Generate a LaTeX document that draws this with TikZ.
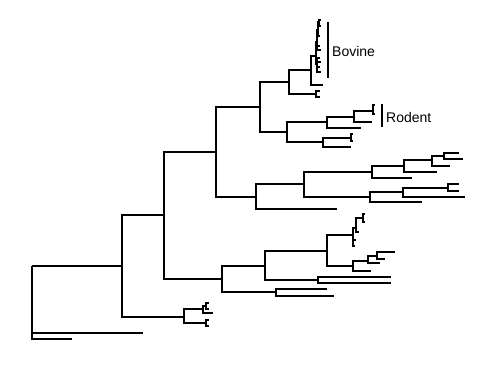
\documentclass[tikz,border=0pt]{standalone}
\usepackage{fontspec}
\setmainfont{Liberation Sans}

\begin{document}
\begin{tikzpicture}[x=1pt,y=-1pt,branch/.style={line width=1.3pt},clade/.style={right,inner sep=0pt,font=\fontsize{14}{16}\selectfont}]
      \useasboundingbox (0,0) rectangle (494,366);
      % internal nodes (x = depth, y = where the parent branch comes in)
      \coordinate (root) at (32,266);
      \coordinate (a) at (122,266);
      \coordinate (b) at (164,215);
      \coordinate (c) at (184,317);
      \coordinate (d) at (216,152);
      \coordinate (e) at (222,279);
      \coordinate (f) at (260,107);
      \coordinate (g) at (256,197);
      \coordinate (h) at (289,82);
      \coordinate (i) at (287,132);
      \coordinate (j) at (311,70);
      \coordinate (k) at (316,94);
      \coordinate (bov) at (316,56);
      \coordinate (bo1) at (317,42);
      \coordinate (bo2) at (317,64);
      \coordinate (bo3) at (318,30);
      \coordinate (bo4) at (319,22);
      \coordinate (m) at (327,122);
      \coordinate (n) at (323,142);
      \coordinate (o) at (354,117);
      \coordinate (p) at (373,111);
      \coordinate (q) at (351,138);
      \coordinate (r) at (304,184);
      \coordinate (s) at (372,172);
      \coordinate (t) at (370,197);
      \coordinate (u) at (404,166);
      \coordinate (v) at (432,160);
      \coordinate (w) at (444,156);
      \coordinate (xa) at (403,192);
      \coordinate (ya) at (448,188);
      \coordinate (z) at (265,266);
      \coordinate (aa) at (276,292);
      \coordinate (bb) at (327,251);
      \coordinate (cc) at (318,280);
      \coordinate (dd) at (353,235);
      \coordinate (dda) at (356,228);
      \coordinate (ddb) at (363,218);
      \coordinate (ee) at (353,266);
      \coordinate (ff) at (368,261);
      \coordinate (gg) at (377,256);
      \coordinate (hh) at (203,309);
      \coordinate (ii) at (206,323);
      \coordinate (jj) at (206,306);
      % leaves
      \coordinate (l1) at (143,333);
      \coordinate (l2) at (72,339);
      \coordinate (l3) at (323,85);
      \coordinate (l4) at (320,91);
      \coordinate (l5) at (320,97);
      \coordinate (l6) at (320,46);
      \coordinate (l7) at (321,50);
      \coordinate (l8) at (320,36);
      \coordinate (l9) at (321,20);
      \coordinate (l10) at (321,26);
      \coordinate (l11) at (320,58);
      \coordinate (l12) at (321,62);
      \coordinate (l13) at (320,67);
      \coordinate (l14) at (321,72);
      \coordinate (l15) at (361,128);
      \coordinate (l16) at (372,122);
      \coordinate (l17) at (375,105);
      \coordinate (l18) at (375,114);
      \coordinate (l19) at (351,147);
      \coordinate (l20) at (353,134);
      \coordinate (l21) at (353,141);
      \coordinate (l22) at (337,209);
      \coordinate (l23) at (412,178);
      \coordinate (l24) at (437,172);
      \coordinate (l25) at (450,166);
      \coordinate (l26) at (459,153);
      \coordinate (l27) at (463,159);
      \coordinate (l28) at (422,202);
      \coordinate (l29) at (465,197);
      \coordinate (l30) at (459,184);
      \coordinate (l31) at (459,191);
      \coordinate (l32) at (356,240);
      \coordinate (l33) at (355,246);
      \coordinate (l34) at (359,232);
      \coordinate (l35) at (365,214);
      \coordinate (l36) at (365,222);
      \coordinate (l37) at (371,271);
      \coordinate (l38) at (380,263);
      \coordinate (l39) at (395,252);
      \coordinate (l40) at (385,259);
      \coordinate (l41) at (391,277);
      \coordinate (l42) at (391,283);
      \coordinate (l43) at (327,289);
      \coordinate (l44) at (334,296);
      \coordinate (l45) at (213,313);
      \coordinate (l46) at (209,303);
      \coordinate (l47) at (209,309);
      \coordinate (l48) at (209,320);
      \coordinate (l49) at (209,326);
      % branches
      \foreach \p/\c in {root/a,root/l1,root/l2,a/b,a/c,b/d,b/e,d/f,d/g,f/h,f/i,h/j,h/k,
          j/bov,j/l3,k/l4,k/l5,bov/bo1,bov/bo2,bo1/bo3,bo1/l6,bo1/l7,bo3/bo4,bo3/l8,
          bo4/l9,bo4/l10,bo2/l11,bo2/l12,bo2/l13,bo2/l14,i/m,i/n,m/o,m/l15,o/p,o/l16,
          p/l17,p/l18,n/q,n/l19,q/l20,q/l21,g/r,g/l22,r/s,r/t,s/u,s/l23,u/v,u/l24,
          v/w,v/l25,w/l26,w/l27,t/xa,t/l28,xa/ya,xa/l29,ya/l30,ya/l31,e/z,e/aa,
          z/bb,z/cc,bb/dd,bb/ee,dd/dda,dd/l32,dd/l33,dda/ddb,dda/l34,ddb/l35,ddb/l36,
          ee/ff,ee/l37,ff/gg,ff/l38,gg/l39,gg/l40,cc/l41,cc/l42,aa/l43,aa/l44,
          c/hh,c/ii,hh/jj,hh/l45,jj/l46,jj/l47,ii/l48,ii/l49}
        \draw[branch] (\p) |- (\c);
      % clade bars
      \coordinate (bovtop) at (328,22);
      \coordinate (bovbot) at (328,78);
      \coordinate (rodtop) at (382,104);
      \coordinate (rodbot) at (382,127);
      \draw[branch] (bovtop) -- (bovbot);
      \draw[branch] (rodtop) -- (rodbot);
      \node[clade] (bovine) at (332,51) {Bovine};
      \node[clade] (rodent) at (386,117) {Rodent};
    \end{tikzpicture}
\end{document}
